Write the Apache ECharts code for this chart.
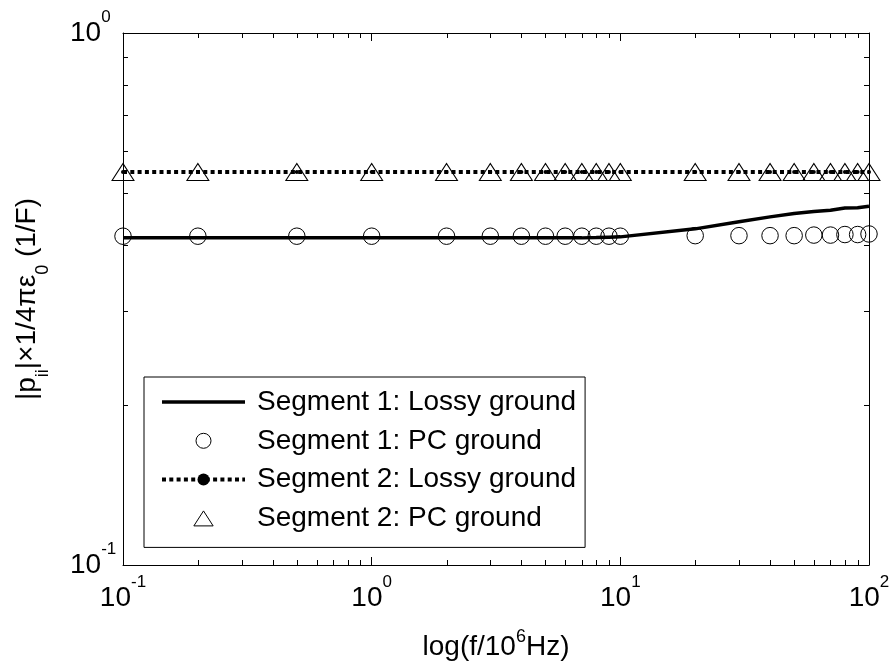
<!DOCTYPE html>
<html>
<head>
<meta charset="utf-8">
<script src="https://cdn.jsdelivr.net/npm/echarts@6/dist/echarts.min.js"></script>
<style>html,body{margin:0;padding:0;background:#fff;}#c{width:894px;height:666px;}</style>
</head>
<body>
<div id="c"></div>
<script>
// ---- data ----
const freqs = [0.1, 0.2, 0.5, 1, 2, 3, 4, 5, 6, 7, 8, 9, 10, 20, 30, 40, 50, 60, 70, 80, 90, 100];
const seg1Lossy = [0.412, 0.412, 0.412, 0.412, 0.412, 0.412, 0.412, 0.412, 0.412, 0.412, 0.4125, 0.4132, 0.4138, 0.4284, 0.4416, 0.4512, 0.4577, 0.4617, 0.4644, 0.4688, 0.4693, 0.4724];
const seg1PC = [0.415, 0.415, 0.415, 0.415, 0.415, 0.415, 0.415, 0.415, 0.415, 0.415, 0.415, 0.415, 0.415, 0.416, 0.416, 0.416, 0.416, 0.417, 0.417, 0.418, 0.418, 0.419];
const seg2Lossy = [0.548, 0.548, 0.548, 0.548, 0.548, 0.548, 0.548, 0.548, 0.548, 0.548, 0.548, 0.548, 0.548, 0.548, 0.548, 0.548, 0.548, 0.548, 0.548, 0.548, 0.548, 0.548];
const seg2PC = [0.548, 0.548, 0.548, 0.548, 0.548, 0.548, 0.548, 0.548, 0.548, 0.548, 0.548, 0.548, 0.548, 0.548, 0.548, 0.548, 0.548, 0.548, 0.548, 0.548, 0.548, 0.548];
const seriesNames = ['Segment 1: Lossy ground', 'Segment 1: PC ground', 'Segment 2: Lossy ground', 'Segment 2: PC ground'];
const xMinorTicks = [0.2, 0.3, 0.4, 0.5, 0.6, 0.7, 0.8, 0.9, 2, 3, 4, 5, 6, 7, 8, 9, 20, 30, 40, 50, 60, 70, 80, 90];
const yMinorTicks = [0.2, 0.3, 0.4, 0.5, 0.6, 0.7, 0.8, 0.9];
const X_MIN = 0.1, X_MAX = 100, Y_MIN = 0.1, Y_MAX = 1;

// ---- style ----
const FONT = "'Liberation Sans', Arial, sans-serif";
const MAJOR_LEN = 8, MINOR_LEN = 5;
const pair = (xs, ys) => xs.map((x, i) => [x, ys[i]]);
const expLabel = v => '{b|10}{s|' + Math.round(Math.log10(v)) + '}';
const tickRich = {
  b: {fontSize: 28, fontFamily: FONT, color: '#000', verticalAlign: 'middle'},
  s: {fontSize: 17, fontFamily: FONT, color: '#000', verticalAlign: 'middle', padding: [0, 0, 32, 0]}
};
const axisCommon = {
  type: 'log', logBase: 10, interval: 1,
  axisLine: {show: true, onZero: false, lineStyle: {color: '#000', width: 1}},
  axisTick: {show: true, inside: true, length: MAJOR_LEN, lineStyle: {color: '#000'}},
  splitLine: {show: false}, minorTick: {show: false}
};

const chart = echarts.init(document.getElementById('c'), null, {renderer: 'canvas'});
chart.setOption({
  backgroundColor: '#fff',
  animation: false,
  grid: {left: 123, right: 25, top: 33, bottom: 100},
  xAxis: [
    Object.assign({}, axisCommon, {
      min: X_MIN, max: X_MAX, position: 'bottom',
      axisLabel: {show: true, margin: 9, formatter: expLabel, rich: tickRich},
      name: '{m|log(f/10}{s|6}{m|Hz)}', nameLocation: 'middle', nameGap: 63,
      nameTextStyle: {rich: {
        m: {fontSize: 28, fontFamily: FONT, color: '#000', verticalAlign: 'middle'},
        s: {fontSize: 18, fontFamily: FONT, color: '#000', verticalAlign: 'middle', padding: [0, 0, 20, 0]}
      }}
    }),
    Object.assign({}, axisCommon, {
      min: X_MIN, max: X_MAX, position: 'top', axisLabel: {show: false}
    })
  ],
  yAxis: [
    Object.assign({}, axisCommon, {
      min: Y_MIN, max: Y_MAX, position: 'left',
      axisLabel: {show: true, align: 'left', margin: 53, formatter: expLabel, rich: tickRich},
      name: '{m||p}{d|ii}{m||×1/4πε}{d|0}{m| (1/F)}', nameLocation: 'middle', nameRotate: 90, nameGap: 71,
      nameTextStyle: {rich: {
        m: {fontSize: 28, fontFamily: FONT, color: '#000', verticalAlign: 'middle'},
        d: {fontSize: 18, fontFamily: FONT, color: '#000', verticalAlign: 'middle', padding: [32, 0, 0, 0]}
      }}
    }),
    Object.assign({}, axisCommon, {
      min: Y_MIN, max: Y_MAX, position: 'right', axisLabel: {show: false}
    })
  ],
  legend: {
    orient: 'vertical', left: 144, top: 377,
    padding: [10, 9, 14, 16],
    itemWidth: 83, itemHeight: 15, itemGap: 8.8,
    borderColor: '#000', borderWidth: 1, borderRadius: 0, backgroundColor: '#fff',
    textStyle: {fontSize: 28, fontFamily: FONT, color: '#000', lineHeight: 30, padding: [0, 0, 0, 7]},
    selectedMode: false,
    data: [
      {name: seriesNames[0], icon: 'path://M0,0L83,0L83,3.5L0,3.5Z', itemStyle: {color: '#000', borderWidth: 0}},
      {name: seriesNames[1], icon: 'circle', itemStyle: {color: 'none', borderColor: '#000', borderWidth: 1}},
      {name: seriesNames[2], lineStyle: {width: 4, type: [4, 3.3], color: '#000', cap: 'butt'}},
      {name: seriesNames[3], icon: 'path://M9,0L18,14L0,14Z', itemStyle: {color: 'none', borderColor: '#000', borderWidth: 1}}
    ]
  },
  series: [
    {
      name: seriesNames[0], type: 'line', data: pair(freqs, seg1Lossy),
      symbol: 'none', showSymbol: false, clip: false,
      lineStyle: {color: '#000', width: 3.5, type: 'solid'}, itemStyle: {color: '#000'}, z: 3
    },
    {
      name: seriesNames[1], type: 'line', data: pair(freqs, seg1PC),
      symbol: 'circle', symbolSize: 16.5, clip: false,
      lineStyle: {width: 0, opacity: 0},
      itemStyle: {color: 'none', borderColor: '#000', borderWidth: 1}, z: 4
    },
    {
      name: seriesNames[2], type: 'line', data: pair(freqs, seg2Lossy),
      symbol: 'circle', symbolSize: 4, clip: false,
      lineStyle: {color: '#000', width: 4, type: [4, 3.3], cap: 'butt'},
      itemStyle: {color: '#000'}, z: 3
    },
    {
      name: seriesNames[3], type: 'line', data: pair(freqs, seg2PC),
      symbol: 'triangle', symbolSize: [22, 17], clip: false,
      lineStyle: {width: 0, opacity: 0},
      itemStyle: {color: 'none', borderColor: '#000', borderWidth: 1}, z: 4
    },
    {
      name: 'xMinor', type: 'custom', silent: true, clip: false,
      data: xMinorTicks.map(v => [v, Y_MIN]),
      encode: {x: 0, y: 1},
      renderItem: (params, api) => {
        const v = api.value(0);
        const b = api.coord([v, Y_MIN]);
        const t = api.coord([v, Y_MAX]);
        const x = Math.round(b[0]) + 0.5;
        return {type: 'group', children: [
          {type: 'line', shape: {x1: x, y1: b[1], x2: x, y2: b[1] - MINOR_LEN}, style: {stroke: '#000', lineWidth: 1}},
          {type: 'line', shape: {x1: x, y1: t[1], x2: x, y2: t[1] + MINOR_LEN}, style: {stroke: '#000', lineWidth: 1}}
        ]};
      }
    },
    {
      name: 'yMinor', type: 'custom', silent: true, clip: false,
      data: yMinorTicks.map(v => [X_MIN, v]),
      encode: {x: 0, y: 1},
      renderItem: (params, api) => {
        const v = api.value(1);
        const l = api.coord([X_MIN, v]);
        const r = api.coord([X_MAX, v]);
        const y = Math.round(l[1]) + 0.5;
        return {type: 'group', children: [
          {type: 'line', shape: {x1: l[0], y1: y, x2: l[0] + MINOR_LEN, y2: y}, style: {stroke: '#000', lineWidth: 1}},
          {type: 'line', shape: {x1: r[0], y1: y, x2: r[0] - MINOR_LEN, y2: y}, style: {stroke: '#000', lineWidth: 1}}
        ]};
      }
    }
  ]
});
</script>
</body>
</html>
